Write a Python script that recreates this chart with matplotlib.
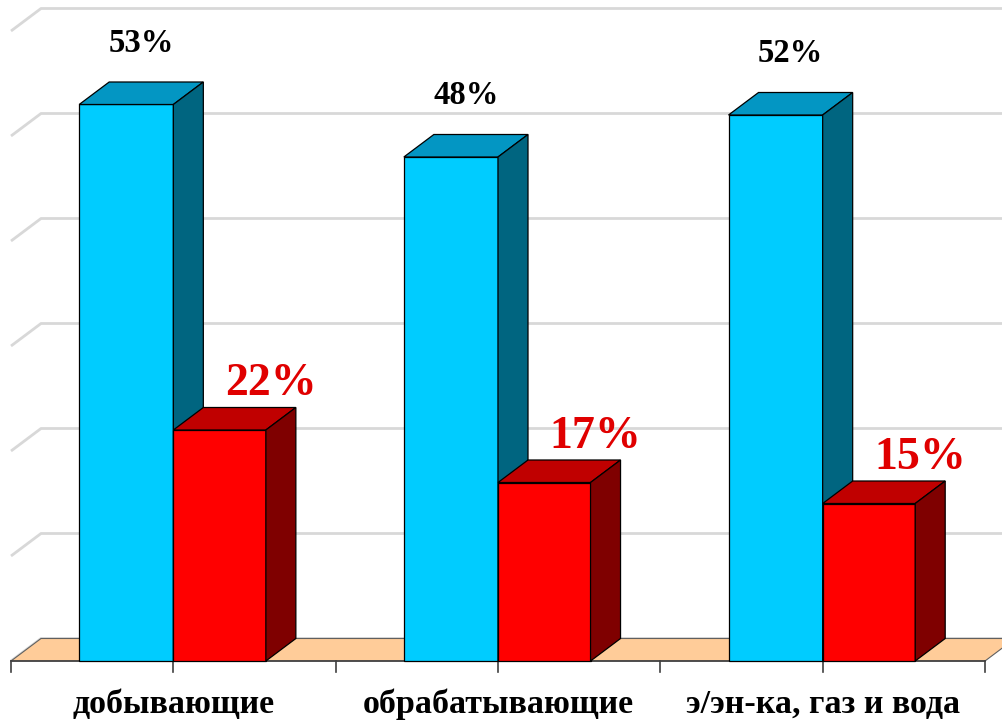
import matplotlib.pyplot as plt
from matplotlib.patches import Polygon

categories = ["добывающие", "обрабатывающие", "э/эн-ка, газ и вода"]
share_blue = [53, 48, 52]
share_red = [22, 17, 15]
gridlines = [0, 10, 20, 30, 40, 50, 60]

W, H = 1003, 721
fig = plt.figure(figsize=(W / 100, H / 100), dpi=100)
ax = fig.add_axes([0, 0, 1, 1])

# pixel mapping: category 0 -> px 11, 3 -> px 985; 0% at px 661, 10% = 105 px
PX_CAT = (985 - 11) / 3
PX_PCT = 10.5
ax.set_xlim(-11 / PX_CAT, (W - 11) / PX_CAT)
ax.set_ylim(-(H - 661) / PX_PCT, 661 / PX_PCT)
ax.axis("off")

DX = 30 / PX_CAT
DY = 22.5 / PX_PCT
n = len(categories)
FONT = ["Liberation Serif", "DejaVu Serif"]


def box(x0, x1, h, front, top, side):
    kw = dict(ec="black", lw=0.9, zorder=3)
    ax.add_patch(Polygon([(x0, 0), (x1, 0), (x1, h), (x0, h)], fc=front, **kw))
    ax.add_patch(Polygon([(x0, h), (x1, h), (x1 + DX, h + DY), (x0 + DX, h + DY)], fc=top, **kw))
    ax.add_patch(Polygon([(x1, 0), (x1 + DX, DY), (x1 + DX, h + DY), (x1, h)], fc=side, **kw))


# gridlines on left wall and back wall
for g in gridlines:
    ax.plot([0, DX, n + DX + 1], [g, g + DY, g + DY], color="#D8D8D8", lw=2, zorder=0,
            solid_capstyle="butt")

# floor
ax.add_patch(Polygon([(0, 0), (n, 0), (n + DX, DY), (DX, DY)], fc="#FFCC99",
                     ec="#606060", lw=0.8, zorder=1))
ax.plot([0, n], [0, 0], color="#404040", lw=1.2, zorder=2)
for k in range(2 * n + 1):
    ax.plot([k / 2, k / 2], [0, -11 / PX_PCT], color="#404040", lw=1.2, zorder=2)

for i, (b, r) in enumerate(zip(share_blue, share_red)):
    box(i + 0.21, i + 0.5, b, "#00CCFF", "#0396C3", "#006580")
    box(i + 0.5, i + 0.785, r, "#FF0000", "#C00000", "#7F0000")
    ax.text(i + 0.355 + DX / 2, b + 5.0, f"{b}%", ha="center", va="baseline",
            family=FONT, weight="bold", fontsize=23.5, color="black", zorder=5)
    ax.text(i + 0.80, r + 3.3, f"{r}%", ha="center", va="baseline",
            family=FONT, weight="bold", fontsize=33, color="#E00000", zorder=5)
    ax.text(i + 0.5, -4.95, categories[i], ha="center", va="baseline",
            family=FONT, weight="bold", fontsize=24.5, color="black", zorder=5)

fig.savefig("out.png", dpi=100)
